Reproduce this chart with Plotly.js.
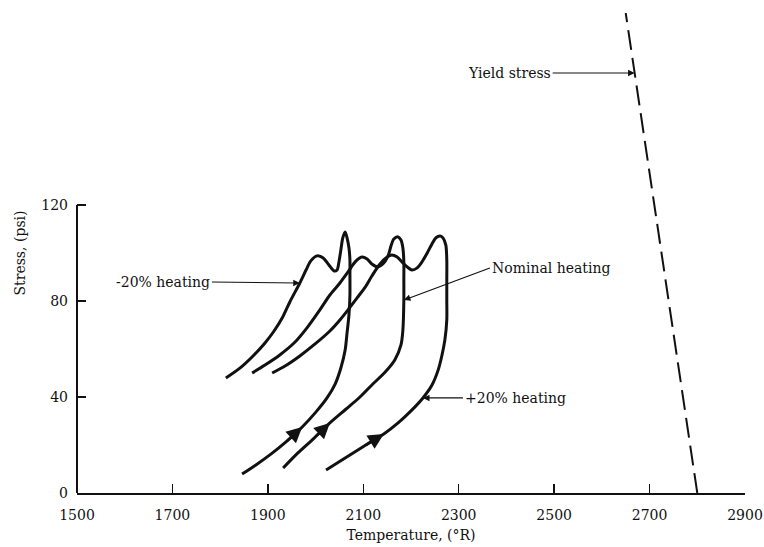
<!DOCTYPE html>
<html>
<head>
<meta charset="utf-8">
<script src="https://cdn.plot.ly/plotly-3.0.1.min.js"></script>
<style>
  html, body { margin: 0; padding: 0; background: #fff; }
  #chart { width: 764px; height: 547px; }
</style>
</head>
<body>
<div id="chart"></div>
<script>
// Thermal stress loops (temperature in °R, stress in psi) for three heating levels.
// Each loop starts at the lower left, rises to a sharp peak, then returns to the left.
const minus20T = [1846, 1875, 1907, 1938, 1972, 2001, 2024, 2041, 2053, 2062, 2066, 2070, 2072, 2072, 2072, 2070, 2066, 2062,
                  2057, 2053, 2049, 2045, 2039, 2028, 2016, 2003, 1990, 1980, 1967, 1946, 1930, 1913, 1894, 1871, 1842, 1812];
const minus20S = [7.9, 11.7, 16.3, 21.3, 27.5, 33.8, 39.6, 45.4, 52.1, 59.6, 66.7, 74.2, 82.5, 90.8, 97.1, 102.1, 106.3, 108.8,
                  106.3, 101.3, 96.3, 92.9, 92.5, 95.0, 97.9, 98.8, 96.7, 92.9, 87.5, 79.6, 72.9, 67.5, 62.5, 57.5, 52.1, 47.9];

const nominalT = [1932, 1963, 1997, 2030, 2064, 2093, 2120, 2146, 2166, 2179, 2183, 2185, 2185, 2185, 2183, 2179, 2173,
                  2164, 2158, 2152, 2141, 2131, 2118, 2108, 2097, 2083, 2068, 2051, 2030, 2009, 1982, 1957, 1925, 1894, 1867];
const nominalS = [10.4, 16.7, 22.9, 29.2, 35.0, 40.0, 45.4, 50.4, 55.4, 61.7, 67.9, 80.4, 88.8, 96.3, 102.1, 105.4, 106.7,
                  105.8, 102.9, 98.8, 95.4, 94.2, 95.4, 97.5, 98.3, 96.3, 92.1, 87.5, 82.5, 76.3, 68.8, 62.9, 57.5, 53.3, 50.0];

const plus20T = [2022, 2062, 2102, 2143, 2173, 2200, 2225, 2244, 2257, 2265, 2271, 2275, 2275, 2275, 2275, 2273, 2267, 2261,
                 2252, 2244, 2234, 2223, 2213, 2202, 2192, 2181, 2171, 2160, 2150, 2135, 2118, 2104, 2087, 2068, 2051, 2030, 1999, 1967, 1936, 1909];
const plus20S = [9.6, 14.6, 19.6, 24.6, 29.2, 34.2, 39.6, 45.0, 51.3, 57.5, 63.8, 72.1, 80.4, 88.8, 97.1, 103.3, 106.3, 107.1,
                 106.3, 103.8, 100.0, 96.3, 93.8, 92.9, 94.2, 96.3, 98.3, 99.2, 98.3, 95.4, 90.4, 85.8, 81.3, 76.3, 72.1, 67.5, 62.1, 57.1, 52.9, 50.0];

// Yield stress limit
const yieldT = [2800, 2650];
const yieldS = [0, 200];

const xTicks = [1500, 1700, 1900, 2100, 2300, 2500, 2700, 2900];
const yTicks = [0, 40, 80, 120];

// Direction arrows sit on the rising branch of each loop
const minus20ArrowIdx = 4;
const nominalArrowIdx = 3;
const plus20ArrowIdx = 3;

// Points where the callout arrows touch the curves
const minus20LabelIdx = 28;
const nominalLabelIdx = 11;
const plus20LabelIdx = 6;
const yieldLabelStress = 175;

const INK = '#111';
const FONT = 'DejaVu Serif, serif';

function curve(T, S) {
  return {
    x: T, y: S, type: 'scatter', mode: 'lines',
    line: { color: INK, width: 3, shape: 'spline', smoothing: 0.8 },
    hoverinfo: 'skip', showlegend: false
  };
}

const traces = [
  curve(minus20T, minus20S),
  curve(nominalT, nominalS),
  curve(plus20T, plus20S),
  {
    x: yieldT, y: yieldS, type: 'scatter', mode: 'lines',
    line: { color: INK, width: 2, dash: '20px,8px' },
    hoverinfo: 'skip', showlegend: false
  }
];

function flowArrow(T, S, i) {
  return {
    x: T[i], y: S[i], ax: T[i - 1], ay: S[i - 1],
    xref: 'x', yref: 'y', axref: 'x', ayref: 'y',
    text: '', showarrow: true,
    arrowhead: 2, arrowsize: 1.2, arrowwidth: 2.6, arrowcolor: INK
  };
}

function callout(text, x, y, ax, ay, anchor) {
  return {
    x: x, y: y, xref: 'x', yref: 'y', ax: ax, ay: ay,
    text: text, showarrow: true, xanchor: anchor, yanchor: 'middle',
    arrowhead: 2, arrowsize: 1.1, arrowwidth: 1.2, arrowcolor: INK,
    font: { family: FONT, size: 14, color: INK }
  };
}

const yieldAt = yieldT[0] + (yieldT[1] - yieldT[0]) * (yieldLabelStress - yieldS[0]) / (yieldS[1] - yieldS[0]);

const annotations = [
  flowArrow(minus20T, minus20S, minus20ArrowIdx),
  flowArrow(nominalT, nominalS, nominalArrowIdx),
  flowArrow(plus20T, plus20S, plus20ArrowIdx),
  callout('-20% heating', minus20T[minus20LabelIdx], minus20S[minus20LabelIdx], -88, -1, 'right'),
  callout('Nominal heating', nominalT[nominalLabelIdx], nominalS[nominalLabelIdx], 86, -32, 'left'),
  callout('+20% heating', plus20T[plus20LabelIdx], plus20S[plus20LabelIdx], 40, 0, 'left'),
  callout('Yield stress', yieldAt, yieldLabelStress, -82, 0, 'right')
];

const layout = {
  width: 764, height: 547,
  margin: { l: 77, r: 19, t: 13, b: 54 },
  paper_bgcolor: '#fff', plot_bgcolor: '#fff',
  font: { family: FONT, size: 14, color: INK },
  xaxis: {
    range: [1500, 2900], tickvals: xTicks, ticktext: xTicks.map(String),
    showgrid: false, zeroline: false,
    showline: true, linecolor: INK, linewidth: 2,
    ticks: 'inside', ticklen: 9, tickwidth: 1.5, tickcolor: INK,
    ticklabelstandoff: 8,
    tickfont: { family: FONT, size: 14, color: INK },
    title: { text: 'Temperature, (°R)', font: { family: FONT, size: 14, color: INK }, standoff: 8 }
  },
  yaxis: {
    range: [0, 200], tickvals: yTicks, ticktext: yTicks.map(String),
    showgrid: false, zeroline: false, showline: false,
    ticks: 'inside', ticklen: 9, tickwidth: 1.5, tickcolor: INK,
    ticklabelstandoff: 8,
    tickfont: { family: FONT, size: 14, color: INK },
    title: { text: 'Stress, (psi)', font: { family: FONT, size: 14, color: INK }, standoff: 12 }
  },
  shapes: [
    // vertical axis drawn only across the labelled stress range
    { type: 'line', xref: 'paper', yref: 'y', x0: 0, x1: 0, y0: yTicks[0], y1: yTicks[yTicks.length - 1],
      line: { color: INK, width: 2 } }
  ],
  annotations: annotations
};

Plotly.newPlot('chart', traces, layout, { staticPlot: true, displayModeBar: false });
</script>
</body>
</html>
